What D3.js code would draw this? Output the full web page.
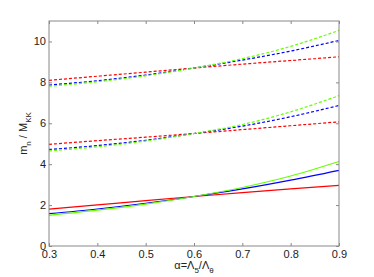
<!DOCTYPE html>
<html>
<head>
<meta charset="utf-8">
<script src="https://cdn.jsdelivr.net/npm/d3@7"></script>
<style>
  body { margin: 0; background: #fff; }
  svg text { font-family: "Liberation Sans", Arial, sans-serif; fill: #222; }
</style>
</head>
<body>
<svg width="374" height="277"></svg>
<script>
var alphas = [0.3, 0.4, 0.5, 0.6, 0.7, 0.8, 0.9];

// lowest mode (solid)
var red1   = [1.80, 2.01, 2.22, 2.42, 2.61, 2.79, 2.96];
var blue1  = [1.58, 1.81, 2.09, 2.42, 2.79, 3.22, 3.70];
var green1 = [1.50, 1.75, 2.05, 2.42, 2.86, 3.42, 4.13];

// second mode (dashed)
var red2   = [4.97, 5.15, 5.32, 5.50, 5.69, 5.88, 6.07];
var blue2  = [4.72, 4.91, 5.17, 5.50, 5.86, 6.32, 6.87];
var green2 = [4.65, 4.85, 5.13, 5.50, 5.94, 6.56, 7.35];

// third mode (dashed)
var red3   = [8.10, 8.30, 8.50, 8.70, 8.89, 9.07, 9.25];
var blue3  = [7.87, 8.08, 8.36, 8.70, 9.09, 9.53, 10.05];
var green3 = [7.81, 8.03, 8.32, 8.70, 9.16, 9.76, 10.54];

var xTicks = [0.3, 0.4, 0.5, 0.6, 0.7, 0.8, 0.9];
var yTicks = [0, 2, 4, 6, 8, 10];

var series = [
  {v: red1, c: "#ff0000", dash: null},
  {v: blue1, c: "#0000ff", dash: null},
  {v: green1, c: "#66ff00", dash: null},
  {v: red2, c: "#ff0000", dash: "3,2"},
  {v: blue2, c: "#0000ff", dash: "3,2"},
  {v: green2, c: "#66ff00", dash: "3,2"},
  {v: red3, c: "#ff0000", dash: "3,2"},
  {v: blue3, c: "#0000ff", dash: "3,2"},
  {v: green3, c: "#66ff00", dash: "3,2"}
];

var svg = d3.select("svg");
var L = 49, R = 339, T = 21, B = 246;

var x = d3.scaleLinear().domain([0.3, 0.9]).range([L, R]);
var y = d3.scaleLinear().domain([0, 11]).range([B, T]);

var line = d3.line()
  .x(function(d, i) { return x(alphas[i]); })
  .y(function(d) { return y(d); })
  .curve(d3.curveMonotoneX);

svg.selectAll("path.series")
  .data(series)
  .enter()
  .append("path")
    .attr("class", "series")
    .attr("d", function(d) { return line(d.v); })
    .attr("fill", "none")
    .attr("stroke", function(d) { return d.c; })
    .attr("stroke-width", 1.2)
    .attr("stroke-dasharray", function(d) { return d.dash; });

// axes, MATLAB style: ticks inside on all four sides
var tl = 3;
svg.append("g").attr("transform", "translate(0," + B + ")")
  .call(d3.axisBottom(x).tickValues(xTicks).tickSize(-tl).tickPadding(4).tickFormat(d3.format(".1f")));
svg.append("g").attr("transform", "translate(0," + T + ")")
  .call(d3.axisTop(x).tickValues(xTicks).tickSize(-tl).tickFormat(""));
svg.append("g").attr("transform", "translate(" + L + ",0)")
  .call(d3.axisLeft(y).tickValues(yTicks).tickSize(-tl).tickPadding(3).tickFormat(d3.format("d")));
svg.append("g").attr("transform", "translate(" + R + ",0)")
  .call(d3.axisRight(y).tickValues(yTicks).tickSize(-tl).tickFormat(""));

svg.selectAll(".domain").remove();
svg.selectAll(".tick line").attr("stroke", "#888");
svg.selectAll(".tick text").attr("font-size", 11).style("fill", "#222");

svg.append("rect")
  .attr("x", L).attr("y", T)
  .attr("width", R - L).attr("height", B - T)
  .attr("fill", "none").attr("stroke", "#888").attr("stroke-width", 1);

// axis labels
var xl = svg.append("text")
  .attr("x", (L + R) / 2).attr("y", 269)
  .attr("text-anchor", "middle").attr("font-size", 11);
xl.append("tspan").text("α=Λ");
xl.append("tspan").attr("dy", 4).attr("font-size", 8).text("5");
xl.append("tspan").attr("dy", -4).text("/Λ");
xl.append("tspan").attr("dy", 4).attr("font-size", 8).text("θ");

var yl = svg.append("text")
  .attr("transform", "translate(27," + ((T + B) / 2) + ") rotate(-90)")
  .attr("text-anchor", "middle").attr("font-size", 11);
yl.append("tspan").text("m");
yl.append("tspan").attr("dy", 4).attr("font-size", 8).text("n");
yl.append("tspan").attr("dy", -4).text(" / M");
yl.append("tspan").attr("dy", 4).attr("font-size", 8).text("KK");
</script>
</body>
</html>
